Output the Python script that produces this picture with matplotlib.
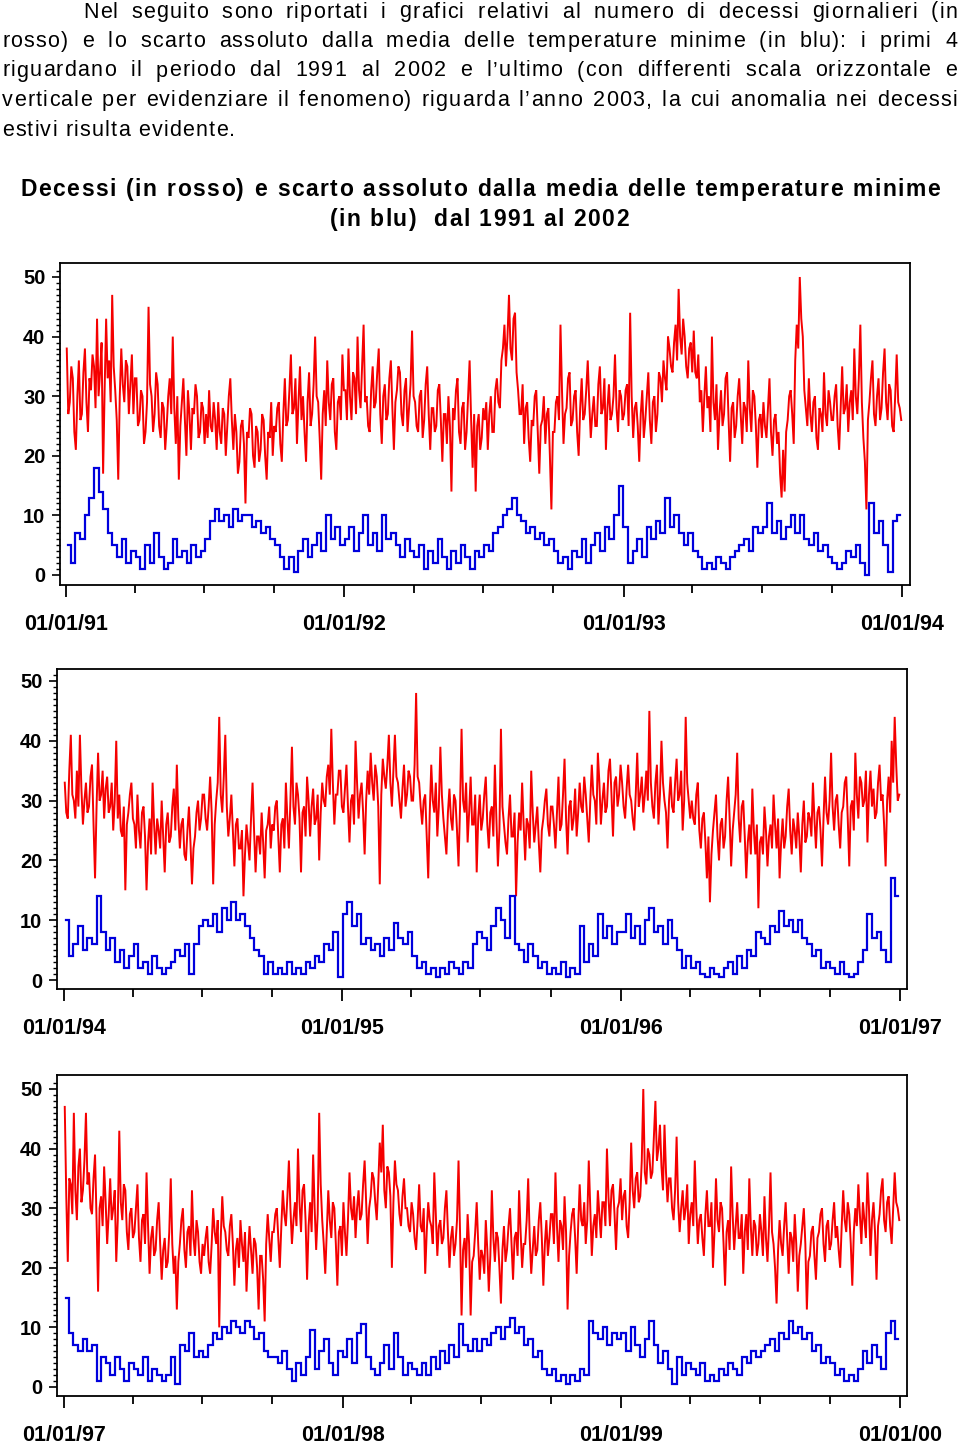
import datetime as dt
import numpy as np
import matplotlib
matplotlib.use("Agg")
import matplotlib.pyplot as plt
import matplotlib.dates as mdates
from matplotlib.ticker import MultipleLocator, FixedLocator

plt.rcParams['font.family'] = ['Liberation Sans', 'DejaVu Sans']
plt.rcParams['font.weight'] = 'bold'

# ---------------- text ----------------
paragraph_lines = [
    "Nel seguito sono riportati i grafici relativi al numero di decessi giornalieri (in",
    "rosso) e lo scarto assoluto dalla media delle temperature minime (in blu): i primi 4",
    "riguardano il periodo dal 1991 al 2002 e l\u2019ultimo (con differenti scala orizzontale e",
    "verticale per evidenziare il fenomeno) riguarda l\u2019anno 2003, la cui anomalia nei decessi",
    "estivi risulta evidente.",
]
title_lines = [
    "Decessi (in rosso) e scarto assoluto dalla media delle temperature minime",
    "(in blu)  dal 1991 al 2002",
]
tick_date_format = "%d/%m/%y"

# ---------------- data (one row ~ one quarter) ----------------
start_years = [1991, 1994, 1997]

deaths_1991_1993 = [
    38,27, 29,35, 33,24, 21,30, 36,26, 27,34, 38,29, 24,33, 31,37, 35,28, 43,30, 34,39, 17,31, 43,33, 36,29, 47,35, 31,26, 16,30, 38,32, 29,36, 35,27, 32,37, 27,33,
    33,25, 26,31, 30,22, 24,29, 45,32, 30,24, 27,34, 32,25, 23,29, 28,21, 25,30, 33,27, 40,28, 22,30, 16,25, 29,33, 26,20, 31,27, 21,28, 27,32, 30,23, 24,29, 28,22,
    27,23, 31,25, 24,29, 26,21, 29,24, 22,28, 27,20, 25,30, 33,26, 21,27, 24,17, 19,25, 26,22, 12,24, 23,28, 27,20, 18,25, 24,19, 21,27, 26,20, 16,24, 23,29, 20,25,
    24,28, 29,22, 19,27, 33,25, 26,31, 37,27, 28,33, 22,29, 35,26, 30,24, 19,29, 34,25, 27,32, 40,30, 29,23, 16,27, 31,25, 36,29, 26,32, 33,24, 21,29, 30,26, 37,31,
    31,26, 38,30, 26,34, 33,27, 40,31, 28,35, 42,29, 30,25, 24,31, 35,28, 29,34, 38,27, 22,30, 32,26, 27,33, 36,28, 21,29, 31,35, 34,27, 25,31, 33,24, 28,32, 41,30,
    29,25, 24,30, 31,23, 26,32, 35,27, 21,28, 28,24, 25,31, 32,26, 19,27, 27,22, 30,25, 14,28, 26,31, 33,24, 22,28, 29,21, 24,30, 36,26, 18,27, 14,25, 27,21, 23,28,
    26,29, 21,27, 30,24, 24,31, 33,29, 28,36, 38,42, 35,40, 47,38, 36,43, 44,34, 31,27, 27,32, 22,28, 29,23, 19,26, 25,30, 31,24, 17,25, 26,30, 22,27, 28,20, 11,24,
    24,29, 30,26, 42,31, 22,27, 28,33, 34,25, 26,30, 31,24, 20,28, 33,26, 27,31, 36,29, 23,27, 30,25, 25,32, 35,27, 28,33, 21,28, 32,26, 27,30, 37,28, 24,31, 30,26,
    27,31, 32,25, 44,30, 23,28, 29,25, 19,27, 31,23, 26,30, 34,26, 22,29, 30,24, 27,34, 33,29, 36,33, 31,40, 38,35, 34,39, 42,36, 48,40, 37,43, 40,35, 33,38, 39,34,
    41,34, 33,37, 29,31, 24,30, 35,28, 30,24, 40,29, 26,32, 21,27, 31,25, 27,33, 34,26, 19,28, 29,23, 25,30, 33,27, 22,29, 28,24, 36,28, 24,31, 30,25, 18,26, 27,23,
    29,25, 23,28, 33,24, 20,26, 27,22, 24,17, 13,21, 14,24, 26,30, 31,27, 22,36, 42,38, 50,43, 40,31, 28,25, 33,27, 24,29, 30,23, 21,28, 27,24, 34,27, 25,31, 29,26,
    26,30, 32,25, 21,28, 35,27, 28,32, 24,29, 31,26, 38,30, 27,33, 42,29, 23,19, 11,26, 29,33, 36,27, 25,30, 33,26, 28,34, 38,29, 26,32, 31,25, 24,30, 37,29, 28,26,
]
tmin_dev_1991_1993 = [
    5, 2, 7, 6, 10, 13, 18, 14, 11, 7, 5, 3, 6, 2, 4,
    3, 1, 5, 2, 7, 3, 1, 2, 6, 3, 4, 2, 5, 3, 4,
    6, 9, 11, 9, 10, 8, 11, 9, 10, 10, 8, 9, 7, 8, 6,
    5, 3, 1, 3, 0.5, 4, 6, 3, 5, 7, 4, 10, 6, 8, 5,
    6, 8, 4, 7, 10, 5, 7, 4, 10, 6, 7, 5, 3, 6, 4,
    3, 5, 1, 4, 2, 6, 3, 1, 4, 2, 5, 3, 1, 4, 3,
    5, 4, 7, 8, 10, 11, 13, 10, 9, 7, 8, 6, 7, 5, 6,
    4, 2, 3, 1, 4, 3, 6, 2, 5, 7, 4, 8, 6, 10, 15,
    8, 2, 4, 6, 3, 8, 6, 9, 7, 13, 8, 10, 7, 5, 7,
    4, 3, 1, 2, 1, 3, 2, 1, 3, 4, 5, 6, 4, 8, 7,
    8, 12, 7, 9, 6, 8, 10, 7, 10, 6, 5, 7, 4, 5, 3,
    2, 1, 2, 4, 3, 5, 2, 0, 12, 7, 9, 5, 0.5, 9, 10,
]

deaths_1994_1996 = [
    33,28, 27,35, 41,31, 30,27, 35,29, 41,32, 26,30, 33,28, 29,34, 36,26, 17,29, 38,30, 31,35, 27,32, 34,28, 29,33, 25,30, 40,27, 31,25, 24,29, 15,26, 28,31, 33,27,
    26,22, 31,25, 22,28, 29,24, 15,23, 27,21, 33,26, 21,27, 25,22, 30,24, 18,26, 28,23, 24,29, 32,25, 36,27, 22,26, 27,21, 20,25, 29,23, 16,22, 24,28, 30,25, 27,31,
    31,27, 25,29, 34,28, 16,26, 30,33, 44,31, 28,34, 41,29, 24,27, 31,25, 19,26, 27,22, 22,25, 14,21, 26,23, 20,27, 33,25, 18,24, 24,21, 28,23, 17,25, 26,29, 22,26,
    25,29, 30,24, 18,26, 27,22, 33,27, 22,30, 39,29, 26,33, 31,27, 18,28, 29,24, 34,30, 24,29, 32,26, 27,31, 20,28, 33,30, 29,34, 36,31, 42,33, 26,31, 31,35, 35,29,
    28,32, 36,29, 23,30, 31,26, 40,33, 27,31, 33,28, 21,30, 35,31, 38,33, 30,36, 34,29, 16,31, 37,34, 32,36, 41,33, 29,35, 41,34, 33,30, 27,32, 36,29, 31,35, 34,30,
    30,36, 48,34, 33,29, 26,30, 31,24, 17,28, 36,30, 28,33, 24,29, 39,31, 27,24, 21,28, 32,27, 25,31, 30,25, 19,29, 42,30, 28,33, 23,28, 34,26, 26,31, 18,27, 31,25,
    27,31, 34,26, 22,28, 29,24, 36,27, 19,25, 42,29, 26,23, 21,27, 31,24, 24,28, 14,23, 28,25, 33,26, 20,27, 26,22, 35,28, 23,26, 29,23, 18,25, 27,30, 32,26, 24,29,
    29,26, 22,28, 34,25, 26,31, 37,27, 21,29, 30,25, 27,32, 24,28, 33,29, 28,34, 31,27, 23,30, 36,31, 30,26, 38,33, 26,30, 33,28, 29,35, 37,31, 24,33, 34,29, 31,36,
    33,29, 27,32, 36,31, 30,27, 25,31, 38,29, 31,34, 28,31, 35,30, 45,33, 29,27, 33,36, 26,31, 40,33, 30,28, 22,30, 34,29, 28,33, 37,30, 31,35, 25,30, 44,33, 30,27,
    30,27, 26,31, 33,25, 22,27, 28,23, 17,24, 13,21, 25,28, 31,24, 20,26, 27,22, 24,30, 34,27, 19,25, 28,31, 38,27, 23,29, 30,24, 17,23, 26,21, 32,25, 21,26, 12,23,
    24,21, 29,25, 19,24, 26,22, 31,26, 22,27, 17,23, 27,22, 24,29, 32,25, 21,27, 25,22, 28,24, 18,26, 30,23, 24,28, 27,24, 33,27, 22,28, 29,25, 19,27, 34,28, 26,30,
    38,29, 25,30, 31,26, 22,28, 29,33, 34,27, 19,29, 30,25, 38,31, 27,34, 33,29, 30,35, 23,31, 35,29, 32,27, 28,33, 36,30, 31,26, 19,30, 34,28, 40,33, 44,36, 30,31,
]
tmin_dev_1994_1996 = [
    10, 4, 6, 9, 5, 7, 6, 14, 8, 5, 7, 3, 5, 2, 4,
    6, 2, 3, 1, 4, 2, 1, 2, 3, 5, 4, 6, 1, 6, 9,
    10, 9, 11, 8, 12, 10, 13, 10, 11, 9, 7, 5, 4, 1, 3,
    1, 2, 1, 3, 1, 2, 1, 3, 2, 4, 3, 6, 5, 8, 0.5,
    11, 13, 9, 11, 6, 7, 5, 6, 4, 7, 5, 9.5, 7, 6, 8,
    4, 2, 3, 1, 2, 0.5, 2, 1, 3, 2, 1, 3, 2, 6, 8,
    7, 5, 9, 12, 10, 7, 14, 6, 5, 3, 6, 4, 2, 3, 1,
    2, 1, 3, 0.5, 2, 1, 9, 3, 6, 4, 11, 7, 9, 6, 8,
    8, 11, 7, 9, 6, 10, 12, 8, 9, 6, 10, 7, 5, 2, 4,
    2, 3, 1, 0.5, 2, 1, 0.5, 2, 3, 1, 4, 2, 5, 4, 8,
    7, 6, 9, 8, 11.5, 9, 10, 8, 10, 7, 6, 4, 5, 2, 3,
    2, 1, 3, 1, 0.5, 1, 3, 5, 11, 7, 8, 5, 3, 17, 14,
]

deaths_1997_1999 = [
    47,32, 21,35, 34,29, 46,33, 28,37, 40,31, 33,38, 46,34, 36,30, 29,35, 39,28, 16,30, 32,27, 37,31, 24,29, 35,28, 30,33, 21,28, 43,31, 28,34, 33,26, 23,29, 30,25,
    26,30, 34,25, 21,28, 29,24, 36,27, 19,25, 27,22, 23,28, 31,24, 18,23, 25,20, 21,26, 35,24, 19,22, 13,21, 24,28, 30,23, 20,26, 27,22, 33,25, 22,28, 26,21, 19,24,
    22,25, 27,21, 19,24, 30,26, 24,28, 10,25, 32,27, 26,23, 22,27, 29,24, 17,23, 25,20, 28,24, 21,26, 16,22, 27,23, 19,25, 24,20, 13,22, 22,18, 11,24, 29,25, 21,26,
    26,29, 30,25, 20,27, 33,29, 27,32, 38,30, 24,28, 31,27, 40,31, 26,33, 34,28, 18,27, 31,26, 39,30, 23,29, 46,34, 28,24, 19,26, 33,28, 25,31, 30,24, 17,26, 27,22,
    31,26, 22,28, 36,30, 28,32, 25,30, 33,28, 29,34, 38,31, 24,30, 32,36, 35,31, 28,34, 41,36, 44,33, 30,37, 36,32, 20,31, 38,34, 33,29, 27,32, 35,30, 30,27, 26,31,
    29,25, 23,28, 34,27, 26,30, 19,26, 31,28, 27,24, 36,29, 22,27, 28,24, 25,30, 33,26, 20,25, 27,22, 24,28, 38,26, 12,23, 25,20, 29,24, 12,21, 22,26, 31,24, 18,23,
    22,19, 28,23, 16,22, 33,25, 21,26, 25,20, 14,23, 27,21, 23,27, 30,24, 18,25, 26,22, 33,26, 20,24, 24,28, 35,25, 19,23, 27,22, 23,28, 31,25, 17,24, 28,22, 25,29,
    29,24, 36,27, 21,28, 27,23, 32,26, 13,22, 26,29, 30,25, 19,27, 34,28, 27,31, 24,28, 38,30, 22,27, 29,25, 33,29, 25,31, 31,27, 40,32, 27,33, 34,29, 23,30, 31,35,
    28,32, 33,27, 25,31, 41,33, 30,35, 36,31, 32,38, 50,36, 34,40, 39,35, 36,42, 48,38, 40,44, 37,33, 44,36, 31,35, 35,30, 28,33, 42,31, 26,30, 33,28, 30,34, 24,29,
    31,27, 38,30, 24,28, 29,25, 22,29, 33,27, 27,31, 20,26, 35,28, 26,31, 30,24, 17,26, 28,23, 37,29, 23,27, 31,25, 25,29, 19,26, 29,23, 35,27, 22,28, 27,22, 24,29,
    26,22, 32,25, 21,27, 36,26, 24,20, 14,23, 28,24, 22,27, 31,25, 19,26, 25,21, 29,24, 16,22, 24,27, 30,24, 13,21, 22,26, 27,22, 18,25, 26,29, 30,24, 21,27, 28,23,
    24,28, 31,25, 27,23, 20,27, 33,28, 26,31, 29,24, 17,26, 30,27, 34,29, 24,31, 28,25, 36,30, 22,28, 31,26, 18,27, 29,33, 35,28, 26,31, 32,27, 24,30, 36,31, 30,28,
]
tmin_dev_1997_1999 = [
    15, 9, 7, 6, 8, 6, 7, 1, 5, 4, 2, 5, 3, 1, 4,
    3, 2, 5, 1, 3, 2, 1, 2, 5, 0.5, 7, 6, 9, 5, 6,
    5, 7, 9, 8, 10, 9, 11, 10, 9, 11, 10, 8, 9, 6, 5,
    5, 4, 6, 3, 1, 4, 2, 5, 9.5, 3, 6, 8, 4, 2, 6,
    5, 8, 4, 9, 10.5, 5, 3, 2, 4, 7, 3, 9, 5, 2, 4,
    3, 2, 4, 2, 5, 3, 6, 4, 7, 5, 10.5, 7, 6, 8, 6,
    8, 7, 9, 10, 8, 10, 11.5, 9, 10, 7, 8, 5, 6, 3, 2,
    3, 1, 2, 0.5, 2, 1, 3, 2, 11, 9, 8, 10, 7, 9, 8,
    9, 6, 10, 7, 5, 8, 11, 7, 4, 6, 3, 0.5, 5, 2, 4,
    3, 2, 4, 1, 2, 1, 3, 2, 4, 3, 2, 5, 4, 6, 5,
    6, 7, 8, 6, 9, 8, 11, 9, 10, 8, 9, 6, 7, 4, 5,
    4, 2, 3, 1, 2, 1, 3, 6, 4, 7, 5, 3, 9, 11, 8,
]

deaths_series = [deaths_1991_1993, deaths_1994_1996, deaths_1997_1999]
tmin_series = [tmin_dev_1991_1993, tmin_dev_1994_1996, tmin_dev_1997_1999]

# ---------------- layout (pixels) ----------------
W, H = 960, 1449
panel_box = [(60, 263, 910, 585), (57, 669, 907, 989), (57, 1075, 907, 1396)]
panel_y0_px = [575, 980, 1387]
panel_y50_px = [277, 681, 1089]
panel_xstart_px = [66, 64, 64]
panel_xend_px = [902, 900, 900]

RED = '#f50000'
BLUE = '#0000dd'

fig = plt.figure(figsize=(W / 100, H / 100), dpi=100)
fig.patch.set_facecolor('white')
renderer = fig.canvas.get_renderer()

_cache = {}


def adv(c, size, weight):
    key = (c, size, weight)
    if key not in _cache:
        t1 = fig.text(0, 0, '|' + c + '|', fontsize=size, fontweight=weight)
        t2 = fig.text(0, 0, '||', fontsize=size, fontweight=weight)
        w = t1.get_window_extent(renderer).width - t2.get_window_extent(renderer).width
        t1.remove()
        t2.remove()
        _cache[key] = w
    return _cache[key]


def draw_line(s, y, size, weight, track, x0=None, x1=None, xc=None):
    advs = [adv(c, size, weight) for c in s]
    natural = sum(advs) + track * (len(s) - 1)
    extra = 0.0
    if x0 is not None and x1 is not None:
        nsp = s.count(' ')
        if nsp:
            extra = (x1 - x0 - natural) / nsp
    elif xc is not None:
        x0 = xc - natural / 2
    x = x0
    for c, a in zip(s, advs):
        if c != ' ':
            fig.text(x / W, 1 - y / H, c, fontsize=size, fontweight=weight,
                     ha='left', va='baseline', color='black')
        x += a + track + (extra if c == ' ' else 0.0)


# paragraph
para_base = [17.5, 47, 76.5, 106, 136]
para_x0 = [83, 2, 2, 2, 2]
for i, line in enumerate(paragraph_lines):
    if i < len(paragraph_lines) - 1:
        draw_line(line, para_base[i], 15.5, 'normal', 1.2, x0=para_x0[i], x1=957)
    else:
        draw_line(line, para_base[i], 15.5, 'normal', 1.2, x0=para_x0[i])

# title
draw_line(title_lines[0], 196, 16.5, 'bold', 1.5, x0=20, x1=940)
draw_line(title_lines[1], 226, 16.5, 'bold', 1.5, xc=479)

# panels
for p in range(3):
    l, t, r, b = panel_box[p]
    ax = fig.add_axes([l / W, 1 - b / H, (r - l) / W, (b - t) / H])
    d0 = mdates.date2num(dt.datetime(start_years[p], 1, 1))
    d1 = mdates.date2num(dt.datetime(start_years[p] + 3, 1, 1))
    ppd = (panel_xend_px[p] - panel_xstart_px[p]) / (d1 - d0)
    ax.set_xlim(d0 - (panel_xstart_px[p] - l) / ppd, d0 + (r - panel_xstart_px[p]) / ppd)
    ppu = (panel_y0_px[p] - panel_y50_px[p]) / 50.0
    ax.set_ylim(-(b - panel_y0_px[p]) / ppu, (panel_y0_px[p] - t) / ppu)

    red = np.asarray(deaths_series[p], dtype=float)
    blue = np.asarray(tmin_series[p], dtype=float)
    xr = d0 + (np.arange(len(red)) + 0.5) * (d1 - d0) / len(red)
    xb = d0 + (np.arange(len(blue)) + 0.5) * (d1 - d0) / len(blue)
    ax.plot(xr, red, color=RED, lw=1.4, solid_joinstyle='miter')
    ax.step(xb, blue, where='mid', color=BLUE, lw=1.6, solid_joinstyle='miter')

    ax.xaxis.set_major_locator(mdates.YearLocator())
    ax.xaxis.set_major_formatter(mdates.DateFormatter(tick_date_format))
    ax.xaxis.set_minor_locator(mdates.MonthLocator(bymonth=[4, 7, 10]))
    ax.yaxis.set_major_locator(MultipleLocator(10))
    ax.yaxis.set_minor_locator(FixedLocator([v for v in range(0, 52) if v % 10]))

    ax.tick_params(axis='x', which='major', direction='out', length=8.6, width=1.3,
                   pad=12.5, labelsize=15.5, colors='black')
    ax.tick_params(axis='x', which='minor', direction='out', length=5.5, width=1.3)
    ax.tick_params(axis='y', which='major', direction='out', length=5.5, width=1.2,
                   pad=5, labelsize=14.5)
    ax.tick_params(axis='y', which='minor', direction='out', length=3, width=1.0)
    ax.tick_params(top=False, right=False, which='both')
    for sp in ax.spines.values():
        sp.set_linewidth(1.3)
        sp.set_color('black')
    for lab in ax.get_xticklabels() + ax.get_yticklabels():
        lab.set_fontweight('bold')

fig.savefig('out.png', dpi=100, facecolor='white')
